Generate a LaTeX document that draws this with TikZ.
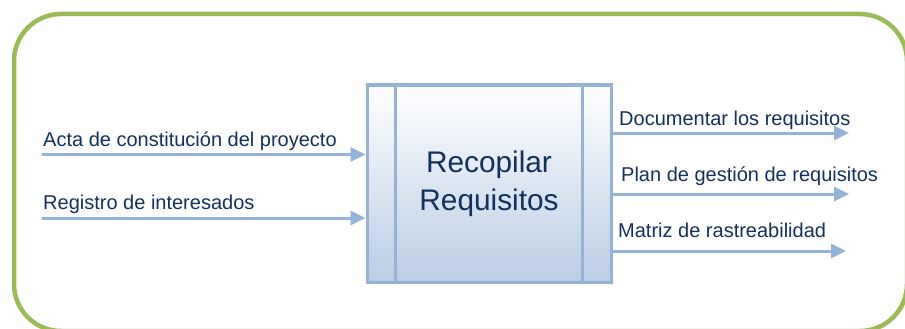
\documentclass[tikz,border=0pt]{standalone}
\usepackage{fontspec}
\setmainfont{Liberation Sans}
\usetikzlibrary{arrows.meta, positioning}
\definecolor{frameGreen}{HTML}{9BBB59}
\definecolor{boxBlue}{HTML}{95B3D7}
\definecolor{boxFill}{HTML}{B9CDE5}
\definecolor{textNavy}{HTML}{13305F}
\tikzstyle{frame} = [draw=frameGreen, line width=4.5pt, rounded corners=47pt]
\tikzstyle{process} = [rectangle, minimum width=244pt, minimum height=197pt, text centered, align=center, draw=boxBlue, line width=3pt, top color=white, bottom color=boxFill, text=textNavy, font=\fontsize{29.8}{38}\selectfont]
\tikzstyle{label} = [anchor=base west, inner sep=0pt, text=textNavy, font=\fontsize{20}{24}\selectfont]
\tikzstyle{arrow} = [draw=boxBlue, line width=3pt, -{Triangle[length=15pt, width=14pt]}]

\begin{document}
\begin{tikzpicture}[x=1pt, y=-1pt]

\useasboundingbox (0,0) rectangle (905,329);
\draw [frame] (14,14) rectangle (907,331);

\node (proc) [process] at (489,183.5) {Recopilar\\Requisitos};
\draw [draw=boxBlue, line width=3pt] ([xshift=30pt]proc.north west) -- ([xshift=30pt]proc.south west);
\draw [draw=boxBlue, line width=3pt] ([xshift=-30pt]proc.north east) -- ([xshift=-30pt]proc.south east);

% entradas
\coordinate (actaStart) at (42,154.5);
\coordinate (regStart) at (42,218);
\node (acta) [label] at (43,146) {Acta de constitución del proyecto};
\node (reg) [label] at (43,209) {Registro de interesados};
\draw [arrow] (actaStart) -- (proc.west |- actaStart);
\draw [arrow] (regStart) -- (proc.west |- regStart);

% salidas
\coordinate (docEnd) at (849,133);
\coordinate (planEnd) at (849,194);
\coordinate (matEnd) at (846,251);
\node (doc) [label] at (619,125) {Documentar los requisitos};
\node (plan) [label] at (621,181) {Plan de gestión de requisitos};
\node (mat) [label] at (618,237) {Matriz de rastreabilidad};
\draw [arrow] (proc.east |- docEnd) -- (docEnd);
\draw [arrow] (proc.east |- planEnd) -- (planEnd);
\draw [arrow] (proc.east |- matEnd) -- (matEnd);

\end{tikzpicture}
\end{document}
